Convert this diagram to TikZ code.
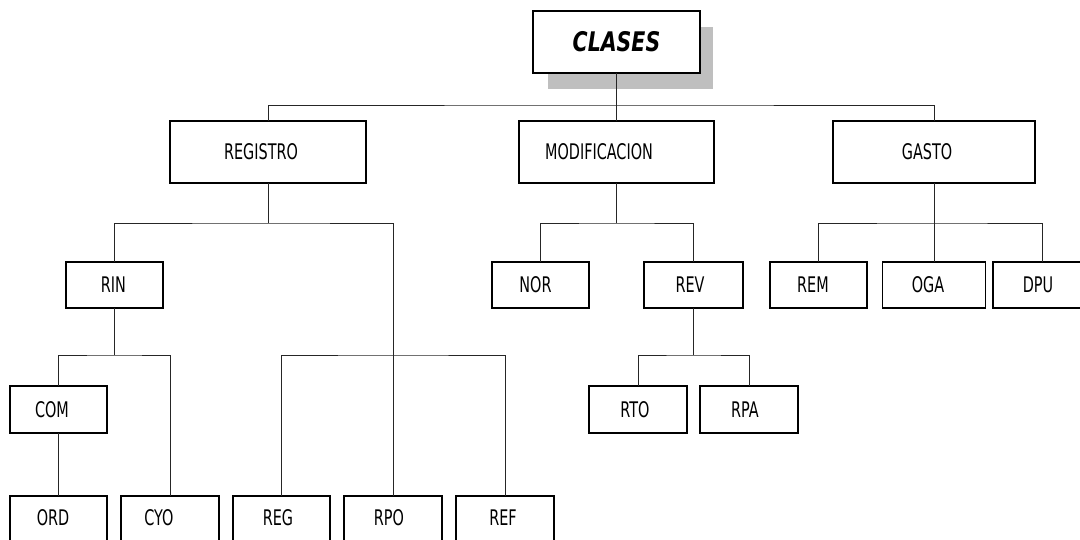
\documentclass[tikz,border=0pt]{standalone}
\usepackage{fontspec}
\newfontfamily\cf[FakeStretch=0.67]{DejaVu Sans}
\newfontfamily\clf[FakeStretch=0.76]{DejaVu Sans}
\begin{document}
\begin{tikzpicture}[x=1pt,y=-1pt]
\tikzset{
  box/.style={draw=black, line width=1.3pt, fill=white, inner sep=0pt, outer sep=0pt, minimum width=97pt, minimum height=46pt},
  bigbox/.style={box, minimum width=196pt, minimum height=62pt},
  lowbox/.style={box, minimum height=60pt},
  lbl/.style={font=\cf\fontsize{21.5}{25}\selectfont, inner sep=0pt},
  conn/.style={draw=black!85, line width=0.9pt},
  shade/.style={fill=black!25}
}
\useasboundingbox (0,0) rectangle (1080,540);
\clip (0,0) rectangle (1080,540);
\fill[white] (0,0) rectangle (1080,540);

% root
\fill[shade] (548,27) rectangle (713,89);
\node[box, minimum width=167pt, minimum height=62pt,
  label={[inner sep=0pt, font=\clf\fontsize{27}{31}\selectfont\bfseries\itshape]center:CLASES}] (clases) at (616.5,42) {};

% level 1
\node[bigbox, label={[lbl,xshift=-7pt]center:REGISTRO}] (reg) at (268,152) {};
\node[bigbox, minimum width=195pt, label={[lbl,xshift=-17.5pt]center:MODIFICACION}] (mod) at (616.5,152) {};
\node[bigbox, minimum width=202pt, label={[lbl,xshift=-7pt]center:GASTO}] (gas) at (934,152) {};

% level 2
\node[box, label={[lbl,xshift=-1pt]center:RIN}] (rin) at (114.5,285) {};
\node[box, label={[lbl,xshift=-5pt]center:NOR}] (nor) at (540.5,285) {};
\node[box, minimum width=99pt, label={[lbl,xshift=-3.5pt]center:REV}] (rev) at (693.5,285) {};
\node[box, label={[lbl,xshift=-5.5pt]center:REM}] (rem) at (818.5,285) {};
\node[box, minimum width=103pt, label={[lbl,xshift=-6pt]center:OGA}] (oga) at (934,285) {};
\node[box, minimum width=98pt, label={[lbl,xshift=-4pt]center:DPU}] (dpu) at (1042,285) {};

% level 3
\node[box, minimum height=47pt, label={[lbl,xshift=-6.5pt]center:COM}] (com) at (58.5,409.5) {};
\node[box, minimum width=98pt, minimum height=47pt, label={[lbl,xshift=-3pt]center:RTO}] (rto) at (638,409.5) {};
\node[box, minimum width=98pt, minimum height=47pt, label={[lbl,xshift=-4pt]center:RPA}] (rpa) at (749,409.5) {};

% level 4 (cut at bottom)
\node[lowbox, label={[lbl,xshift=-5.5pt,yshift=8pt]center:ORD}] (ord) at (58.5,526) {};
\node[lowbox, minimum width=98pt, label={[lbl,xshift=-11pt,yshift=8pt]center:CYO}] (cyo) at (170,526) {};
\node[lowbox, label={[lbl,xshift=-3.5pt,yshift=8pt]center:REG}] (regg) at (281.5,526) {};
\node[lowbox, minimum width=98pt, label={[lbl,xshift=-4pt,yshift=8pt]center:RPO}] (rpo) at (393,526) {};
\node[lowbox, minimum width=98pt, label={[lbl,xshift=-2pt,yshift=8pt]center:REF}] (ref) at (505,526) {};

% connectors
\coordinate (j0) at (616.5,105);
\draw[conn] (clases.south) -- (mod.north);
\draw[conn] (reg.north) |- (j0) -| (gas.north);

\coordinate (j1) at (268,223);
\draw[conn] (reg.south) -- (j1);
\draw[conn] (rin.north) |- (j1) -| (rpo.north);
\coordinate (j2) at (393,355);
\draw[conn] (regg.north) |- (j2) -| (ref.north);

\coordinate (j3) at (114.5,355);
\draw[conn] (rin.south) -- (j3);
\draw[conn] (com.north) |- (j3) -| (cyo.north);
\draw[conn] (com.south) -- (ord.north);

\coordinate (j4) at (616.5,223);
\draw[conn] (mod.south) -- (j4);
\draw[conn] (nor.north) |- (j4) -| (rev.north);
\coordinate (j5) at (693.5,355);
\draw[conn] (rev.south) -- (j5);
\draw[conn] (rto.north) |- (j5) -| (rpa.north);

\coordinate (j6) at (934,223);
\draw[conn] (gas.south) -- (j6);
\draw[conn] (rem.north) |- (j6) -| (dpu.north);
\draw[conn] (j6) -- (oga.north);
\end{tikzpicture}
\end{document}
